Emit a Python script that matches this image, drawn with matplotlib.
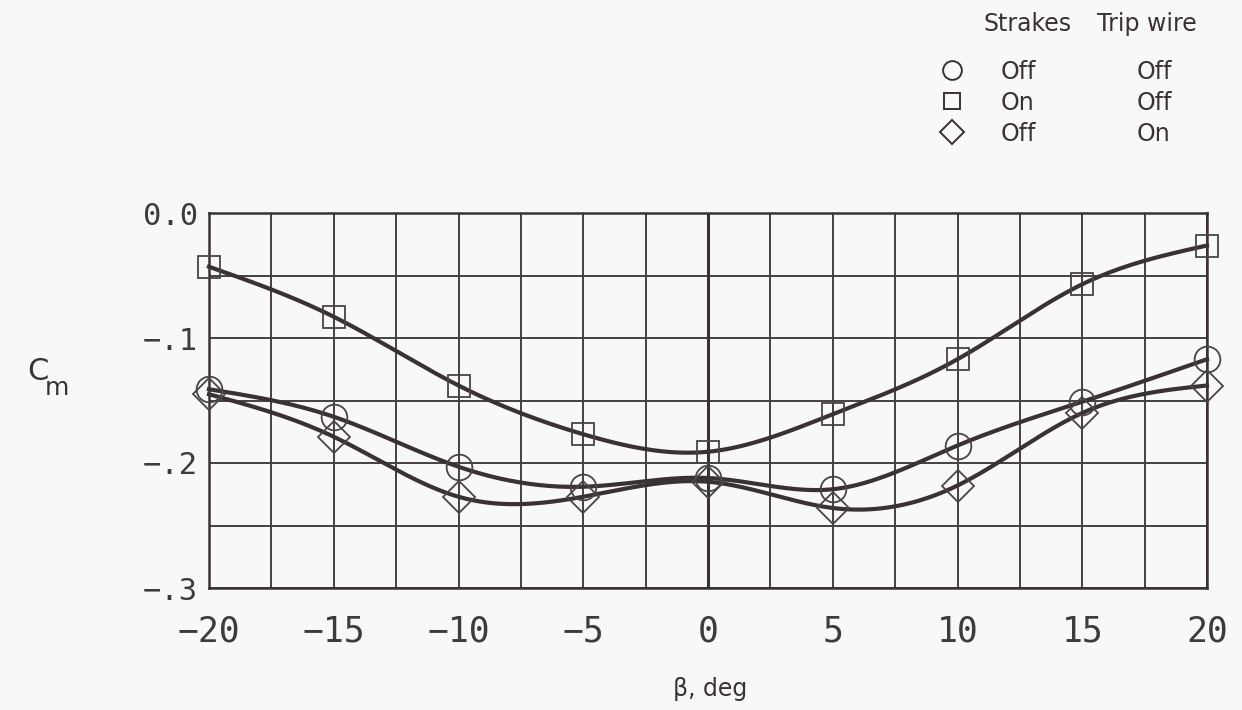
import numpy as np
import matplotlib.pyplot as plt
from matplotlib.ticker import MultipleLocator, FixedLocator, FixedFormatter

# sideslip angle, deg
beta = [-20, -15, -10, -5, 0, 5, 10, 15, 20]

# pitching moment coefficient for each configuration
cm_off_off = [-0.141, -0.163, -0.203, -0.219, -0.212, -0.221, -0.186, -0.151, -0.117]
cm_on_off = [-0.043, -0.083, -0.138, -0.177, -0.191, -0.161, -0.117, -0.057, -0.026]
cm_off_on = [-0.145, -0.179, -0.227, -0.227, -0.215, -0.236, -0.218, -0.160, -0.138]

strakes = ['Off', 'On', 'Off']
trip_wire = ['Off', 'Off', 'On']
markers = ['o', 's', 'D']

yticks = [0.0, -0.1, -0.2, -0.3]
ytick_labels = ['0.0', '−.1', '−.2', '−.3']
xticks = [-20, -15, -10, -5, 0, 5, 10, 15, 20]
xtick_labels = ['−20', '−15', '−10', '−5', '0', '5', '10', '15', '20']

ink = '#3a3232'
bg = '#f8f8f8'


def natural_spline(x, y, n=300):
    x = np.asarray(x, float)
    y = np.asarray(y, float)
    m = len(x)
    h = np.diff(x)
    A = np.zeros((m, m))
    r = np.zeros(m)
    A[0, 0] = 1
    A[-1, -1] = 1
    for i in range(1, m - 1):
        A[i, i - 1] = h[i - 1]
        A[i, i] = 2 * (h[i - 1] + h[i])
        A[i, i + 1] = h[i]
        r[i] = 3 * ((y[i + 1] - y[i]) / h[i] - (y[i] - y[i - 1]) / h[i - 1])
    c = np.linalg.solve(A, r)
    xs = np.linspace(x[0], x[-1], n)
    k = np.clip(np.searchsorted(x, xs) - 1, 0, m - 2)
    dx = xs - x[k]
    b = (y[k + 1] - y[k]) / h[k] - h[k] * (2 * c[k] + c[k + 1]) / 3
    d = (c[k + 1] - c[k]) / (3 * h[k])
    return xs, y[k] + b * dx + c[k] * dx ** 2 + d * dx ** 3


fig = plt.figure(figsize=(12.42, 7.10), dpi=100, facecolor=bg)
ax = fig.add_axes([209 / 1242, 1 - 588 / 710, 998 / 1242, 375 / 710])
ax.set_facecolor(bg)

series = [cm_off_off, cm_on_off, cm_off_on]
sizes = {'o': 18.5, 's': 16.5, 'D': 16.5}
for cm, mk in zip(series, markers):
    xs, ys = natural_spline(beta, cm)
    ax.plot(xs, ys, color=ink, lw=3, zorder=3, clip_on=False)
    ax.plot(beta, cm, ls='none', marker=mk, ms=sizes[mk], mfc='none',
            mec='#4a4444', mew=1.3, zorder=4, clip_on=False)

ax.set_xlim(-20, 20)
ax.set_ylim(-0.3, 0.0)
ax.xaxis.set_major_locator(FixedLocator(xticks))
ax.xaxis.set_major_formatter(FixedFormatter(xtick_labels))
ax.xaxis.set_minor_locator(MultipleLocator(2.5))
ax.yaxis.set_major_locator(FixedLocator(yticks))
ax.yaxis.set_major_formatter(FixedFormatter(ytick_labels))
ax.yaxis.set_minor_locator(MultipleLocator(0.05))
ax.grid(which='both', color='#454040', lw=1.4)
ax.axvline(0, color=ink, lw=2.2, zorder=2)
for s in ax.spines.values():
    s.set_color(ink)
    s.set_linewidth(1.8)
ax.tick_params(which='both', direction='in', length=0, colors=ink)
ax.tick_params(axis='x', labelsize=25, pad=19)
ax.tick_params(axis='y', labelsize=22, pad=8)
for lab in ax.get_xticklabels() + ax.get_yticklabels():
    lab.set_family('DejaVu Sans Mono')
    lab.set_color('#3c3c3c')

fig.text(710 / 1242, 1 - 689 / 710, 'β, deg', ha='center', va='center',
         fontsize=17, color=ink)
fig.text(27 / 1242, 1 - 372 / 710, 'C', ha='left', va='center',
         fontsize=22, color=ink)
fig.text(45 / 1242, 1 - 388 / 710, 'm', ha='left', va='center',
         fontsize=18, color=ink)

# legend table in figure pixel coordinates
lg = fig.add_axes([0, 0, 1, 1], facecolor='none')
lg.set_xlim(0, 1242)
lg.set_ylim(710, 0)
lg.axis('off')
lg.text(1028, 24, 'Strakes', ha='center', va='center', fontsize=17, color=ink)
lg.text(1147, 24, 'Trip wire', ha='center', va='center', fontsize=17, color=ink)
leg_sizes = {'o': 13.5, 's': 12, 'D': 12.5}
for i, (mk, s_on, t_on) in enumerate(zip(markers, strakes, trip_wire)):
    yy = 70 + 31 * i
    lg.plot([952], [yy], marker=mk, ms=leg_sizes[mk], mfc='none', mec=ink, mew=1.4)
    lg.text(1001, yy + 2, s_on, ha='left', va='center', fontsize=17, color=ink)
    lg.text(1137, yy + 2, t_on, ha='left', va='center', fontsize=17, color=ink)

fig.savefig('out.png', dpi=100, facecolor=bg)
